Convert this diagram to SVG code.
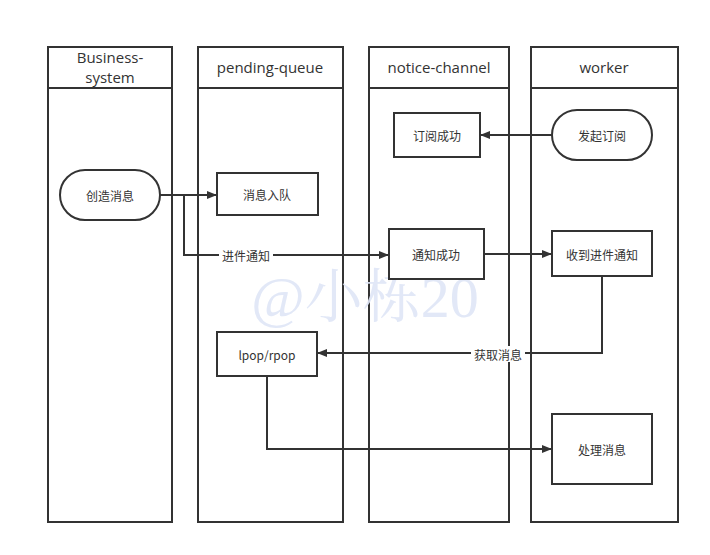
<svg xmlns="http://www.w3.org/2000/svg" width="710" height="555" viewBox="0 0 710 555">
<defs>
<marker id="arr" viewBox="0 0 10 10" refX="10" refY="5" markerWidth="10" markerHeight="10" markerUnits="userSpaceOnUse" orient="auto">
<path d="M0,1 L10,5 L0,9 Z" fill="#333"/>
</marker>
<style>
.lane{fill:#fff;stroke:#333;stroke-width:2}
.node{fill:#fff;stroke:#333;stroke-width:2}
.hd{font-family:"Open Sans","Noto Sans CJK SC",sans-serif;font-size:15px;fill:#333;text-anchor:middle}
.tx{font-family:"Noto Sans CJK SC","Noto Sans",sans-serif;font-size:12px;fill:#333;text-anchor:middle;dominant-baseline:central}
.ln{fill:none;stroke:#333;stroke-width:2}
.lb{font-family:"Noto Sans CJK SC","Noto Sans",sans-serif;font-size:12px;fill:#333;text-anchor:middle;dominant-baseline:central}
.lbbg{fill:#fff}
</style>
</defs>
<rect width="710" height="555" fill="#fff"/>
<g id="lanes">
<g id="lane-business">
<rect class="lane" x="48" y="47" width="124" height="475"/>
<line x1="48" y1="88" x2="172" y2="88" stroke="#333" stroke-width="2"/>
<text class="hd" x="110" y="63">Business-</text>
<text class="hd" x="110" y="83">system</text>
</g>
<g id="lane-pending">
<rect class="lane" x="198" y="47" width="145" height="475"/>
<line x1="198" y1="88" x2="343" y2="88" stroke="#333" stroke-width="2"/>
<text class="hd" x="270" y="73">pending-queue</text>
</g>
<g id="lane-notice">
<rect class="lane" x="369" y="47" width="140" height="475"/>
<line x1="369" y1="88" x2="509" y2="88" stroke="#333" stroke-width="2"/>
<text class="hd" x="439" y="73">notice-channel</text>
</g>
<g id="lane-worker">
<rect class="lane" x="531" y="47" width="147" height="475"/>
<line x1="531" y1="88" x2="678" y2="88" stroke="#333" stroke-width="2"/>
<text class="hd" x="604" y="73">worker</text>
</g>
</g>
<text x="365" y="317" font-family="'Liberation Serif','Noto Serif CJK SC','Noto Sans CJK SC',serif" font-size="58" fill="#dfe6f7" text-anchor="middle" opacity="0.9">@小栋20</text>
<g id="connectors">
<line class="ln" x1="160" y1="195" x2="217" y2="195" marker-end="url(#arr)"/>
<polyline class="ln" points="184,195 184,255 389,255" marker-end="url(#arr)"/>
<rect class="lbbg" x="219" y="247" width="54" height="16"/>
<text class="lb" x="246" y="255">进件通知</text>
<line class="ln" x1="552" y1="135" x2="480" y2="135" marker-end="url(#arr)"/>
<line class="ln" x1="484" y1="254" x2="552" y2="254" marker-end="url(#arr)"/>
<polyline class="ln" points="602,276 602,353 317,353" marker-end="url(#arr)"/>
<rect class="lbbg" x="471" y="346" width="54" height="16"/>
<text class="lb" x="498" y="354">获取消息</text>
<polyline class="ln" points="267,376 267,449 552,449" marker-end="url(#arr)"/>
</g>
<g id="n-create"><rect class="node" x="60" y="170" width="100" height="50" rx="25"/><text class="tx" x="110" y="195">创造消息</text></g>
<g id="n-enqueue"><rect class="node" x="217" y="173" width="101" height="42"/><text class="tx" x="267" y="194">消息入队</text></g>
<g id="n-subok"><rect class="node" x="394" y="113" width="86" height="44"/><text class="tx" x="437" y="135">订阅成功</text></g>
<g id="n-sub"><rect class="node" x="552" y="110" width="100" height="50" rx="25"/><text class="tx" x="602" y="135">发起订阅</text></g>
<g id="n-notify"><rect class="node" x="389" y="229" width="95" height="50"/><text class="tx" x="436" y="254">通知成功</text></g>
<g id="n-recv"><rect class="node" x="552" y="231" width="100" height="45"/><text class="tx" x="602" y="254">收到进件通知</text></g>
<g id="n-pop"><rect class="node" x="217" y="332" width="100" height="44"/><text class="tx" x="267" y="354">lpop/rpop</text></g>
<g id="n-proc"><rect class="node" x="552" y="414" width="100" height="70"/><text class="tx" x="602" y="449">处理消息</text></g>
</svg>
